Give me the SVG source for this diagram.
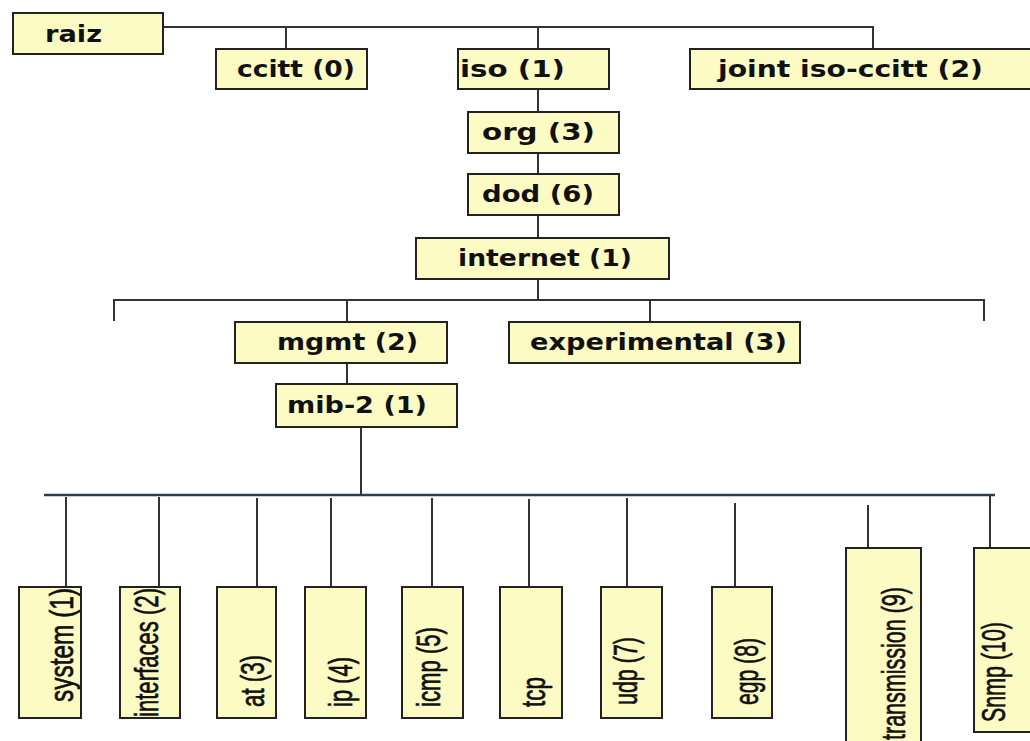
<svg xmlns="http://www.w3.org/2000/svg" width="1030" height="741" viewBox="0 0 1030 741">
<style>
.box{fill:#fdfbc4;stroke:#222;stroke-width:2}
.t{font-family:"DejaVu Sans","Liberation Sans",sans-serif;font-weight:bold;font-size:23px;fill:#111}
.v{font-family:"Liberation Sans Narrow","Liberation Sans",sans-serif;font-size:34px;fill:#111;stroke:#111;stroke-width:0.7}
.ln{stroke:#333;stroke-width:2;fill:none}
.bus{stroke:#2e3d48;stroke-width:2.5;fill:none}
</style>
<rect width="1030" height="741" fill="#ffffff"/>
<g id="connectors">
<path class="ln" d="M163 27H873V49M286 27V49M538 27V49M538 89V112M538 153V174M538 215V238M538 279V300"/>
<path class="ln" d="M114 321V300H984V321M347 300V322M650 300V322M347 363V384M361 427V495"/>
<path class="bus" d="M44 495H995"/>
<path class="ln" d="M66 497V587M159 497V587M257 498V587M331 498V587M432 498V587M529 499V587M627 498V587M735 503V587M868 505V548M990 495V548"/>
</g>
<g id="raiz"><rect class="box" x="13" y="13" width="150" height="41"/><text class="t" x="45" y="42" textLength="57" lengthAdjust="spacingAndGlyphs">raiz</text></g>
<g id="ccitt"><rect class="box" x="216" y="49" width="151" height="40"/><text class="t" x="237" y="77" textLength="118" lengthAdjust="spacingAndGlyphs">ccitt (0)</text></g>
<g id="iso"><rect class="box" x="458" y="49" width="151" height="40"/><text class="t" x="460" y="77" textLength="105" lengthAdjust="spacingAndGlyphs">iso (1)</text></g>
<g id="joint"><rect class="box" x="690" y="49" width="345" height="40"/><text class="t" x="718" y="77" textLength="265" lengthAdjust="spacingAndGlyphs">joint iso-ccitt (2)</text></g>
<g id="org"><rect class="box" x="468" y="112" width="151" height="41"/><text class="t" x="482" y="140" textLength="113" lengthAdjust="spacingAndGlyphs">org (3)</text></g>
<g id="dod"><rect class="box" x="468" y="174" width="151" height="41"/><text class="t" x="482" y="202" textLength="112" lengthAdjust="spacingAndGlyphs">dod (6)</text></g>
<g id="internet"><rect class="box" x="416" y="238" width="253" height="41"/><text class="t" x="458" y="266" textLength="174" lengthAdjust="spacingAndGlyphs">internet (1)</text></g>
<g id="mgmt"><rect class="box" x="235" y="322" width="212" height="41"/><text class="t" x="277" y="350" textLength="141" lengthAdjust="spacingAndGlyphs">mgmt (2)</text></g>
<g id="experimental"><rect class="box" x="509" y="322" width="291" height="41"/><text class="t" x="530" y="350" textLength="257" lengthAdjust="spacingAndGlyphs">experimental (3)</text></g>
<g id="mib2"><rect class="box" x="276" y="384" width="181" height="43"/><text class="t" x="287" y="413" textLength="140" lengthAdjust="spacingAndGlyphs">mib-2 (1)</text></g>
<g id="system"><rect class="box" x="19" y="587" width="62" height="131"/><text class="v" transform="translate(73,702) rotate(-90)" textLength="114" lengthAdjust="spacingAndGlyphs">system (1)</text></g>
<g id="interfaces"><rect class="box" x="120" y="587" width="60" height="131"/><text class="v" transform="translate(158,717) rotate(-90)" textLength="129" lengthAdjust="spacingAndGlyphs">interfaces (2)</text></g>
<g id="at"><rect class="box" x="217" y="587" width="59" height="131"/><text class="v" transform="translate(264,707) rotate(-90)" textLength="52" lengthAdjust="spacingAndGlyphs">at (3)</text></g>
<g id="ip"><rect class="box" x="305" y="587" width="61" height="131"/><text class="v" transform="translate(352,707) rotate(-90)" textLength="50" lengthAdjust="spacingAndGlyphs">ip (4)</text></g>
<g id="icmp"><rect class="box" x="402" y="587" width="61" height="131"/><text class="v" transform="translate(440,707) rotate(-90)" textLength="80" lengthAdjust="spacingAndGlyphs">icmp (5)</text></g>
<g id="tcp"><rect class="box" x="500" y="587" width="62" height="131"/><text class="v" transform="translate(545,707) rotate(-90)" textLength="30" lengthAdjust="spacingAndGlyphs">tcp</text></g>
<g id="udp"><rect class="box" x="601" y="587" width="61" height="131"/><text class="v" transform="translate(637,705) rotate(-90)" textLength="68" lengthAdjust="spacingAndGlyphs">udp (7)</text></g>
<g id="egp"><rect class="box" x="712" y="587" width="60" height="131"/><text class="v" transform="translate(758,705) rotate(-90)" textLength="67" lengthAdjust="spacingAndGlyphs">egp (8)</text></g>
<g id="transmission"><rect class="box" x="846" y="548" width="75" height="200"/><text class="v" transform="translate(905,740) rotate(-90)" textLength="153" lengthAdjust="spacingAndGlyphs">transmission (9)</text></g>
<g id="snmp"><rect class="box" x="974" y="548" width="62" height="184"/><text class="v" transform="translate(1005,722) rotate(-90)" textLength="100" lengthAdjust="spacingAndGlyphs">Snmp (10)</text></g>
</svg>
